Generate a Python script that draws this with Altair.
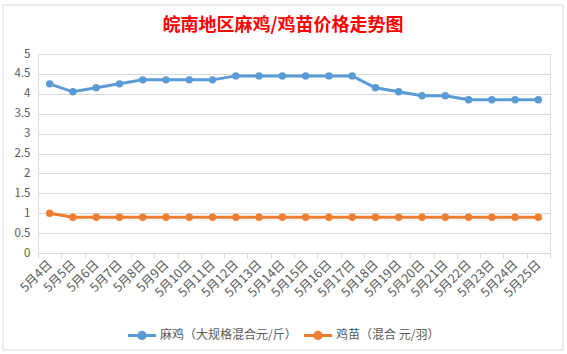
import altair as alt
import pandas as pd

dates = ["5月4日", "5月5日", "5月6日", "5月7日", "5月8日", "5月9日", "5月10日", "5月11日",
         "5月12日", "5月13日", "5月14日", "5月15日", "5月16日", "5月17日", "5月18日",
         "5月19日", "5月20日", "5月21日", "5月22日", "5月23日", "5月24日", "5月25日"]
maji = [4.25, 4.05, 4.15, 4.25, 4.35, 4.35, 4.35, 4.35, 4.45, 4.45, 4.45, 4.45, 4.45, 4.45,
        4.15, 4.05, 3.95, 3.95, 3.85, 3.85, 3.85, 3.85]
jimiao = [1.0, 0.9, 0.9, 0.9, 0.9, 0.9, 0.9, 0.9, 0.9, 0.9, 0.9, 0.9, 0.9, 0.9, 0.9, 0.9,
          0.9, 0.9, 0.9, 0.9, 0.9, 0.9]
series_names = ["麻鸡（大规格混合元/斤）", "鸡苗（混合 元/羽）"]
series_colors = ["#5B9BD5", "#ED7D31"]
y_ticks = [0, 0.5, 1, 1.5, 2, 2.5, 3, 3.5, 4, 4.5, 5]

rows = []
for name, vals in zip(series_names, [maji, jimiao]):
    for d, v in zip(dates, vals):
        rows.append({"date": d, "price": v, "series": name})
df = pd.DataFrame(rows)

FONT = "Noto Sans CJK SC"
LEG_PATH = "M-1,0H1M0.22,0A0.22,0.22 0 1,1 -0.22,0A0.22,0.22 0 1,1 0.22,0Z"

x = alt.X("date:N", sort=dates, title=None,
          scale=alt.Scale(paddingInner=0, paddingOuter=0),
          axis=alt.Axis(labelAngle=-45, labelAlign="right", labelBaseline="middle",
                        labelFontSize=12.5, labelColor="#595959", labelFont=FONT,
                        tickBand="extent", tickSize=5, tickColor="#D9D9D9",
                        domainColor="#D9D9D9", labelPadding=4, grid=False))
y = alt.Y("price:Q", title=None,
          scale=alt.Scale(domain=[0, 5], nice=False),
          axis=alt.Axis(values=y_ticks, format="~g", labelFontSize=11.5, labelColor="#595959",
                        labelFont=FONT, domain=False, ticks=False, gridColor="#D9D9D9",
                        labelPadding=8))
color = alt.Color("series:N", sort=series_names,
                  scale=alt.Scale(domain=series_names, range=series_colors),
                  legend=alt.Legend(title=None, orient="none", legendX=88, legendY=265,
                                    direction="horizontal", columns=2, columnPadding=0,
                                    symbolType=LEG_PATH, symbolSize=800, symbolStrokeWidth=3,
                                    labelFontSize=12, labelColor="#595959", labelFont=FONT,
                                    labelOffset=2))

base = alt.Chart(df)
line = base.mark_line(strokeWidth=3).encode(x=x, y=y, color=color)
pts = base.mark_point(filled=True, size=55, opacity=1).encode(x=x, y=y, color=color)

border = alt.Chart(alt.Data(values=[{}])).mark_rect(
    fill=None, stroke="#D9D9D9", strokeWidth=1
).encode(x=alt.value(-35), x2=alt.value(525), y=alt.value(-49), y2=alt.value(296))

chart = alt.layer(border, line, pts).properties(
    width=512, height=199,
    autosize=alt.AutoSizeParams(type="none"),
    padding={"left": 38, "top": 54, "right": 17, "bottom": 101},
    title=alt.Title("皖南地区麻鸡/鸡苗价格走势图", color="#FF0000", fontSize=18,
                    font=FONT, fontWeight="bold", anchor="middle", frame="group",
                    dx=-11, dy=44, offset=14),
).configure_view(stroke=None).configure(background="white")

chart.save("out.html", embed_options={"renderer": "svg", "actions": False})
